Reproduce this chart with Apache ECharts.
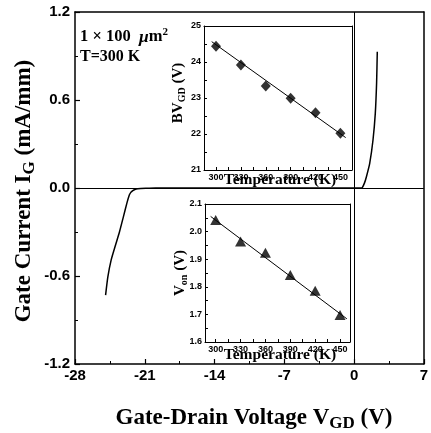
<!DOCTYPE html>
<html>
<head>
<meta charset="utf-8">
<script src="https://cdn.jsdelivr.net/npm/echarts@6/dist/echarts.min.js"></script>
<style>
html,body{margin:0;padding:0;background:#fff;}
#chart{width:431px;height:433px;}
</style>
</head>
<body>
<div id="chart"></div>
<script>
// Main I-V curve (Gate-drain voltage V, gate current mA/mm)
const mainV = [-24.93, -24.7, -24.37, -23.94, -23.54, -23.14, -22.8, -22.55, -22.4, -22.2, -22.0, -21.7, -20.9, -19.9, -15, -10, -5, 0, 0.5, 0.74, 0.84, 1.05, 1.24, 1.57, 1.9, 2.13, 2.26, 2.33];
const mainI = [-0.73, -0.605, -0.49, -0.39, -0.30, -0.195, -0.105, -0.048, -0.03, -0.018, -0.01, -0.005, -0.002, 0, 0, 0, 0, 0, 0, 0, 0.005, 0.035, 0.077, 0.168, 0.327, 0.509, 0.714, 0.929];

// Inset temperatures
const tempK = [300, 330, 360, 390, 420, 450];
const tempTicks = [300, 330, 360, 390, 420, 450];
const tempMinorTicks = [300, 315, 330, 345, 360, 375, 390, 405, 420, 435, 450];
// Inset 1: breakdown voltage BV_GD (V)
const bvGD = [24.44, 23.92, 23.33, 22.99, 22.59, 22.02];
const bvFitT = [294.8, 456.4];
const bvFitV = [24.565, 21.9];
// Inset 2: turn-on voltage V_on (V)
const vOn = [2.042, 1.964, 1.923, 1.843, 1.786, 1.698];
const vonFitT = [293.9, 458.2];
const vonFitV = [2.055, 1.684];

const pairs = (a, b) => a.map((v, i) => [v, b[i]]);

const chart = echarts.init(document.getElementById('chart'), null, {renderer: 'canvas'});

const sans = 'Arial, Liberation Sans, sans-serif';
const serif = 'Times New Roman, Liberation Serif, serif';

function insetX(gi, min, max) {
  return {
    gridIndex: gi, type: 'value', min: min, max: max,
    axisLine: {onZero: false, lineStyle: {color: '#000', width: 1}},
    axisTick: {inside: true, length: 3, customValues: tempMinorTicks, lineStyle: {color: '#000'}},
    axisLabel: {customValues: tempTicks, fontSize: 9, fontWeight: 'bold', fontFamily: sans, color: '#000', margin: 3},
    splitLine: {show: false}
  };
}
function insetY(gi, min, max, interval, fmt) {
  return {
    gridIndex: gi, type: 'value', min: min, max: max, interval: interval,
    axisLine: {onZero: false, lineStyle: {color: '#000', width: 1}},
    axisTick: {inside: true, length: 3, lineStyle: {color: '#000'}},
    minorTick: {show: true, splitNumber: 2, length: 3, lineStyle: {color: '#000'}},
    axisLabel: {fontSize: 9, fontWeight: 'bold', fontFamily: sans, color: '#000', margin: 3, formatter: fmt,
      showMinLabel: true, showMaxLabel: true},
    splitLine: {show: false}
  };
}
// Mirror axis used only to draw the top / right frame lines
function frameAxis(gi, pos, width) {
  return {
    gridIndex: gi, type: 'value', position: pos, min: 0, max: 1,
    axisLine: {show: true, onZero: false, lineStyle: {color: '#000', width: width}},
    axisTick: {show: false}, axisLabel: {show: false}, splitLine: {show: false}
  };
}

const titleRich = {
  b: {fontFamily: serif, fontWeight: 'bold', fontSize: 23, color: '#000', lineHeight: 28, verticalAlign: 'middle'},
  s: {fontFamily: serif, fontWeight: 'bold', fontSize: 17, color: '#000', lineHeight: 28, verticalAlign: 'bottom'}
};
const insetRich = {
  b: {fontFamily: serif, fontWeight: 'bold', fontSize: 15, color: '#000', lineHeight: 18, verticalAlign: 'middle'},
  s: {fontFamily: serif, fontWeight: 'bold', fontSize: 10, color: '#000', lineHeight: 18, verticalAlign: 'bottom'}
};

const option = {
  backgroundColor: '#fff',
  animation: false,
  grid: [
    {left: 75, top: 12, width: 353, height: 352},
    {left: 204, top: 26, width: 148, height: 144},
    {left: 205, top: 204, width: 145, height: 138}
  ],
  xAxis: [
    {
      gridIndex: 0, type: 'value', min: -28, max: 7, interval: 7,
      axisLine: {onZero: false, lineStyle: {color: '#000', width: 1.5}},
      axisTick: {inside: true, length: 5, lineStyle: {color: '#000', width: 1.2}},
      minorTick: {show: true, splitNumber: 2, length: 3, lineStyle: {color: '#000'}},
      axisLabel: {fontSize: 15, fontWeight: 'bold', fontFamily: sans, color: '#000', margin: 4,
        showMinLabel: true, showMaxLabel: true},
      splitLine: {show: false}, minorSplitLine: {show: false}
    },
    insetX(1, 285.5, 464),
    insetX(2, 287.1, 462),
    frameAxis(0, 'top', 1.5),
    frameAxis(1, 'top', 1),
    frameAxis(2, 'top', 1)
  ],
  yAxis: [
    {
      gridIndex: 0, type: 'value', min: -1.2, max: 1.2, interval: 0.6,
      axisLine: {onZero: false, lineStyle: {color: '#000', width: 1.5}},
      axisTick: {inside: true, length: 5, lineStyle: {color: '#000', width: 1.2}},
      minorTick: {show: true, splitNumber: 2, length: 3, lineStyle: {color: '#000'}},
      axisLabel: {fontSize: 15, fontWeight: 'bold', fontFamily: sans, color: '#000', margin: 5,
        formatter: v => v.toFixed(1), showMinLabel: true, showMaxLabel: true},
      splitLine: {show: false}, minorSplitLine: {show: false}
    },
    insetY(1, 21, 25, 1, v => String(Math.round(v))),
    insetY(2, 1.6, 2.1, 0.1, v => v.toFixed(1)),
    frameAxis(0, 'right', 1.5),
    frameAxis(1, 'right', 1),
    frameAxis(2, 'right', 1)
  ],
  series: [
    {
      type: 'line', xAxisIndex: 0, yAxisIndex: 0, data: pairs(mainV, mainI),
      showSymbol: false, symbol: 'none', smooth: 0.2,
      lineStyle: {color: '#000', width: 1.5},
      markLine: {
        silent: true, symbol: 'none', label: {show: false},
        lineStyle: {color: '#000', width: 1, type: 'solid'},
        data: [{yAxis: 0}, {xAxis: 0}]
      }
    },
    {
      type: 'line', xAxisIndex: 1, yAxisIndex: 1, data: pairs(bvFitT, bvFitV),
      symbol: 'none', lineStyle: {color: '#000', width: 1}
    },
    {
      type: 'scatter', xAxisIndex: 1, yAxisIndex: 1, data: pairs(tempK, bvGD),
      symbol: 'diamond', symbolSize: [10, 11], itemStyle: {color: '#000'}
    },
    {
      type: 'line', xAxisIndex: 2, yAxisIndex: 2, data: pairs(vonFitT, vonFitV),
      symbol: 'none', lineStyle: {color: '#000', width: 1}
    },
    {
      type: 'scatter', xAxisIndex: 2, yAxisIndex: 2, data: pairs(tempK, vOn),
      symbol: 'triangle', symbolSize: [11, 10], itemStyle: {color: '#000'}
    }
  ],
  graphic: [
    { // main x title
      type: 'text', z: 10, x: 254, y: 418,
      style: {text: '{b|Gate-Drain Voltage V}{s|GD}{b| (V)}', align: 'center', verticalAlign: 'middle', rich: titleRich}
    },
    { // main y title
      type: 'text', z: 10, x: 24, y: 191, rotation: Math.PI / 2,
      style: {text: '{b|Gate Current I}{s|G}{b| (mA/mm)}', align: 'center', verticalAlign: 'middle', rich: titleRich}
    },
    { // annotation 1
      type: 'text', z: 10, x: 80, y: 37,
      style: {
        text: '{b|1 × 100  }{i|μ}{b|m}{p|2}',
        verticalAlign: 'middle',
        rich: {
          b: {fontFamily: serif, fontWeight: 'bold', fontSize: 16.5, color: '#000', lineHeight: 20},
          i: {fontFamily: serif, fontWeight: 'bold', fontStyle: 'italic', fontSize: 17.5, color: '#000', lineHeight: 20},
          p: {fontFamily: serif, fontWeight: 'bold', fontSize: 11, color: '#000', lineHeight: 20, verticalAlign: 'top'}
        }
      }
    },
    { // annotation 2
      type: 'text', z: 10, x: 80, y: 57,
      style: {text: 'T=300 K', verticalAlign: 'middle', fontFamily: serif, fontWeight: 'bold', fontSize: 16, fill: '#000'}
    },
    { // inset 1 y title
      type: 'text', z: 10, x: 178, y: 93, rotation: Math.PI / 2,
      style: {text: '{b|BV}{s|GD}{b| (V)}', align: 'center', verticalAlign: 'middle', rich: insetRich}
    },
    { // inset 2 y title
      type: 'text', z: 10, x: 180, y: 273, rotation: Math.PI / 2,
      style: {text: '{b|V}{s|on}{b| (V)}', align: 'center', verticalAlign: 'middle', rich: insetRich}
    },
    { // inset 1 x title
      type: 'text', z: 10, x: 280, y: 180,
      style: {text: 'Temperature (K)', align: 'center', verticalAlign: 'middle', fontFamily: serif, fontWeight: 'bold', fontSize: 15.5, fill: '#000'}
    },
    { // inset 2 x title
      type: 'text', z: 10, x: 280, y: 355,
      style: {text: 'Temperature (K)', align: 'center', verticalAlign: 'middle', fontFamily: serif, fontWeight: 'bold', fontSize: 15.5, fill: '#000'}
    }
  ]
};
chart.setOption(option);
</script>
</body>
</html>
